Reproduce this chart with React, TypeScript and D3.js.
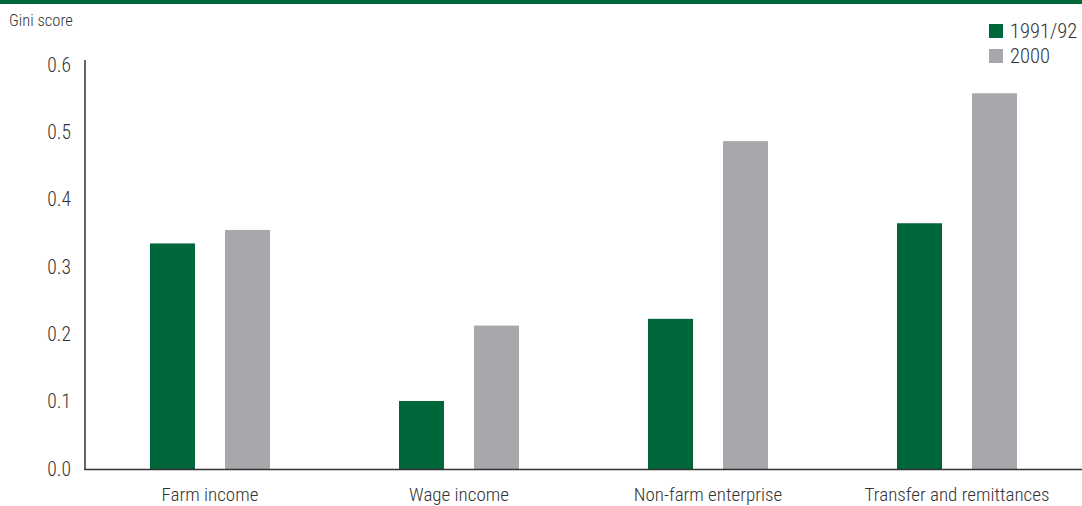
import React from "react";
import * as d3 from "d3";

const categories = ["Farm income", "Wage income", "Non-farm enterprise", "Transfer and remittances"];
const seriesNames = ["1991/92", "2000"];
const values1991 = [0.335, 0.101, 0.223, 0.365];
const values2000 = [0.355, 0.213, 0.487, 0.558];
const yTicks = [0, 0.1, 0.2, 0.3, 0.4, 0.5, 0.6];
const colors = ["#00673b", "#a7a8ab"];

const W = 1082;
const H = 506;
const FONT = "'Roboto Condensed', 'Liberation Sans Narrow', 'Arial Narrow', 'Liberation Sans', sans-serif";

export default function App() {
  const x = d3.scaleBand<string>().domain(categories).range([85.5, 1081.5]).paddingInner(0).paddingOuter(0);
  const xs = d3.scaleBand<string>().domain(seriesNames).range([64.5, 184.5]).paddingInner(30 / 75).paddingOuter(0);
  const y = d3.scaleLinear().domain([0, 0.6]).range([469, 65]);
  const series = [values1991, values2000];

  return (
    <div style={{ position: "absolute", left: 0, top: 0 }}>
      <svg width={W} height={H} style={{ display: "block" }} fontFamily={FONT} fontWeight={300}>
        <rect x={0} y={0} width={W} height={4} fill={colors[0]} />
        <text x={9} y={26} fontSize={16.5} fill="#333">Gini score</text>
        {yTicks.map((t) => (
          <text key={t} x={71} y={y(t)} dy="0.35em" textAnchor="end" fontSize={19.5} fill="#333">
            {t.toFixed(1)}
          </text>
        ))}
        {categories.map((c, i) =>
          series.map((s, j) => (
            <rect
              key={c + j}
              x={(x(c) as number) + (xs(seriesNames[j]) as number)}
              y={y(s[i])}
              width={xs.bandwidth()}
              height={y(0) - y(s[i])}
              fill={colors[j]}
            />
          ))
        )}
        <line x1={85} x2={85} y1={60} y2={469.5} stroke="#333" strokeWidth={1.5} />
        <line x1={84.25} x2={W} y1={469.5} y2={469.5} stroke="#333" strokeWidth={1.5} />
        {categories.map((c) => (
          <text key={c} x={(x(c) as number) + x.bandwidth() / 2} y={501} textAnchor="middle" fontSize={19} fill="#333">
            {c}
          </text>
        ))}
        {seriesNames.map((n, j) => (
          <g key={n} transform={`translate(989, ${24 + j * 25})`}>
            <rect x={0} y={0} width={14} height={14} fill={colors[j]} />
            <text x={21} y={7} dy="0.36em" fontSize={20.5} fill="#333">{n}</text>
          </g>
        ))}
      </svg>
    </div>
  );
}
